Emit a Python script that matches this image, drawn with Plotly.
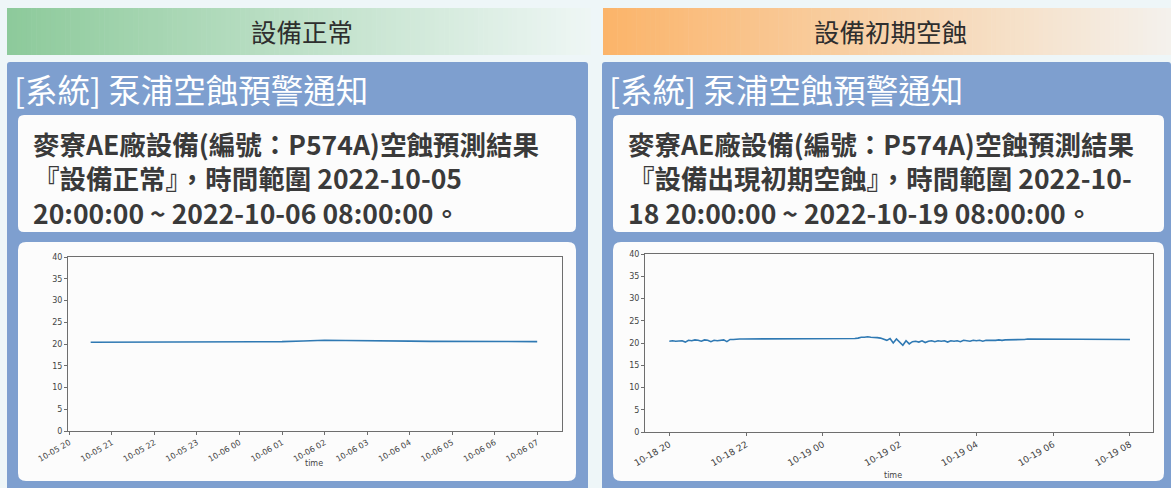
import plotly.graph_objects as go
import pandas as pd

W, H = 1171, 488

# ---------------- data ----------------
left_times = pd.date_range("2022-10-05 20:30", "2022-10-06 07:00", freq="30min")
left_values = [20.4, 20.4, 20.4, 20.4, 20.45, 20.5, 20.5, 20.5, 20.5, 20.55, 20.7,
               20.85, 20.8, 20.8, 20.75, 20.65, 20.6, 20.6, 20.6, 20.55, 20.55, 20.55]

right_times = pd.date_range("2022-10-18 20:00", "2022-10-19 08:00", freq="5min")
right_values = [
    20.4, 20.5, 20.4, 20.5, 20.5, 20.2, 20.6, 20.5, 20.7, 20.6, 20.4, 20.7,
    20.6, 20.3, 20.6, 20.5, 20.6, 20.7, 20.3, 20.8, 20.8, 20.9, 20.9, 20.9,
    20.9, 21.0, 20.9, 21.0, 21.0, 21.0, 21.0, 21.0, 21.0, 21.0, 21.0, 21.0,
    21.0, 21.0, 21.0, 21.0, 21.0, 21.0, 21.0, 21.0, 21.0, 21.0, 21.0, 21.0,
    21.0, 21.0, 21.0, 21.0, 20.9, 20.9, 20.9, 20.9, 20.9, 21.0, 21.0, 21.1,
    21.3, 21.3, 21.4, 21.3, 21.3, 21.2, 21.1, 20.9, 20.6, 21.0, 20.0, 20.9,
    20.2, 19.5, 20.5, 19.8, 20.3, 20.4, 20.2, 20.5, 20.1, 20.4, 20.5, 20.3,
    20.5, 20.4, 20.5, 20.2, 20.5, 20.4, 20.5, 20.3, 20.6, 20.5, 20.4, 20.6,
    20.5, 20.6, 20.4, 20.6, 20.6, 20.5, 20.6, 20.7, 20.6, 20.7, 20.7, 20.7,
    20.8, 20.8, 20.8, 20.8, 20.9, 20.9, 20.9, 20.9, 20.9, 20.9, 20.9, 20.9,
    20.9, 20.9, 20.9, 20.9, 20.9, 20.9, 20.9, 20.9, 20.9, 20.9, 20.9, 20.9,
    20.9, 20.9, 20.9, 20.8, 20.8, 20.8, 20.8, 20.8, 20.8, 20.8, 20.8, 20.8,
    20.8,
]

y_ticks = [0, 5, 10, 15, 20, 25, 30, 35, 40]

header_left = "設備正常"
header_right = "設備初期空蝕"
panel_title = "[系統] 泵浦空蝕預警通知"
left_lines = ["麥寮AE廠設備(編號：P574A)空蝕預測結果",
              "『設備正常』，時間範圍 2022-10-05",
              "20:00:00 ~ 2022-10-06 08:00:00。"]
right_lines = ["麥寮AE廠設備(編號：P574A)空蝕預測結果",
               "『設備出現初期空蝕』，時間範圍 2022-10-",
               "18 20:00:00 ~ 2022-10-19 08:00:00。"]

# ---------------- helpers ----------------
def px(x):
    return x / W

def py(y):
    return 1 - y / H

def hex2rgb(h):
    h = h.lstrip("#")
    return tuple(int(h[i:i + 2], 16) for i in (0, 2, 4))

def lerp(c0, c1, t):
    a, b = hex2rgb(c0), hex2rgb(c1)
    return "rgb(%d,%d,%d)" % tuple(round(a[i] + (b[i] - a[i]) * t) for i in range(3))

def rrect(x0, y0, x1, y1, r):
    def P(x, y):
        return "%.6f,%.6f" % (px(x), py(y))
    return ("M " + P(x0 + r, y0) + " L " + P(x1 - r, y0) + " Q " + P(x1, y0) + " " + P(x1, y0 + r)
            + " L " + P(x1, y1 - r) + " Q " + P(x1, y1) + " " + P(x1 - r, y1)
            + " L " + P(x0 + r, y1) + " Q " + P(x0, y1) + " " + P(x0, y1 - r)
            + " L " + P(x0, y0 + r) + " Q " + P(x0, y0) + " " + P(x0 + r, y0) + " Z")

BG = "#eef6f8"
BLUE = "#7e9fcf"
shapes = []

def gradient_bar(x0, x1, y0, y1, c0, c1, n=120):
    step = (x1 - x0) / n
    for i in range(n):
        t = i / (n - 1)
        shapes.append(dict(type="rect", xref="paper", yref="paper", layer="below",
                           x0=px(x0 + i * step), x1=px(x0 + (i + 1) * step + 0.6),
                           y0=py(y1), y1=py(y0), line=dict(width=0),
                           fillcolor=lerp(c0, c1, t)))

gradient_bar(7, 590, 8, 55, "#8dca9b", "#eef6f4")
gradient_bar(603, 1171, 8, 55, "#fbb46a", "#f4f1ec")

for (x0, x1) in [(7, 588), (602, 1171)]:
    shapes.append(dict(type="path", xref="paper", yref="paper", layer="below",
                       path=rrect(x0, 62, x1, 492, 3), fillcolor=BLUE, line=dict(width=0)))

for (x0, x1) in [(18, 576), (613, 1164)]:
    shapes.append(dict(type="path", xref="paper", yref="paper", layer="below",
                       path=rrect(x0, 115, x1, 232, 6), fillcolor="#fcfcfc", line=dict(width=0)))
    shapes.append(dict(type="path", xref="paper", yref="paper", layer="below",
                       path=rrect(x0, 242, x1, 481, 8), fillcolor="#fcfcfc", line=dict(width=0)))

annotations = []
def text(x, y, s, size, color, anchor="left", bold=False, family="Noto Sans CJK TC",
         yanchor="middle"):
    annotations.append(dict(x=px(x), y=py(y), xref="paper", yref="paper",
                            text=("<b>%s</b>" % s) if bold else s, showarrow=False,
                            xanchor=anchor, yanchor=yanchor, align="left",
                            font=dict(size=size, color=color, family=family)))

text(302, 31, header_left, 25.5, "#2e2e2e", anchor="center")
text(890, 31, header_right, 25.5, "#2e2e2e", anchor="center")
text(12, 89, panel_title, 32.5, "#ffffff")
text(607, 89, panel_title, 32.5, "#ffffff")
text(31, 178, "<br>".join(left_lines), 26.5, "#3a3a3a", bold=True)
text(626, 178, "<br>".join(right_lines), 26.5, "#3a3a3a", bold=True)

text(314, 463, "time", 8, "#444", anchor="center", family="DejaVu Sans")
text(893, 475, "time", 8, "#444", anchor="center", family="DejaVu Sans")

# ---------------- figure ----------------
fig = go.Figure()
LINE = "#2f79b3"
fig.add_trace(go.Scatter(x=left_times, y=left_values, mode="lines",
                         line=dict(color=LINE, width=1.6), xaxis="x", yaxis="y",
                         showlegend=False))
fig.add_trace(go.Scatter(x=right_times, y=right_values, mode="lines",
                         line=dict(color=LINE, width=1.6), xaxis="x2", yaxis="y2",
                         showlegend=False))

axcommon = dict(showline=True, mirror=True, linecolor="#6e6e6e", linewidth=1,
                showgrid=False, zeroline=False, ticks="outside", ticklen=3,
                automargin=False,
                tickcolor="#6e6e6e", tickfont=dict(size=8, color="#444", family="DejaVu Sans"))

fig.update_layout(
    width=W, height=H, autosize=False,
    margin=dict(l=0, r=0, t=0, b=0, pad=0),
    paper_bgcolor=BG, plot_bgcolor="rgba(0,0,0,0)",
    shapes=shapes, annotations=annotations,
    xaxis=dict(domain=[px(68), px(562)], anchor="y", type="date",
               range=["2022-10-05 19:58", "2022-10-06 07:35"],
               tick0="2022-10-05 20:00", dtick=3600000, tickformat="%m-%d %H",
               tickangle=-30, **axcommon),
    yaxis=dict(domain=[py(431), py(257)], anchor="x", range=[0, 40],
               tickvals=y_ticks, **axcommon),
    xaxis2=dict(domain=[px(645), px(1153)], anchor="y2", type="date",
                range=["2022-10-18 19:22", "2022-10-19 08:36"],
                tick0="2022-10-18 20:00", dtick=7200000, tickformat="%m-%d %H",
                tickangle=-30, **{**axcommon, "tickfont": dict(size=9, color="#444", family="DejaVu Sans")}),
    yaxis2=dict(domain=[py(432), py(254)], anchor="x2", range=[0, 40],
                tickvals=y_ticks, **axcommon),
)

fig.write_html("out.html", config={"displayModeBar": False},
               post_script="document.body.style.margin='0px';")
